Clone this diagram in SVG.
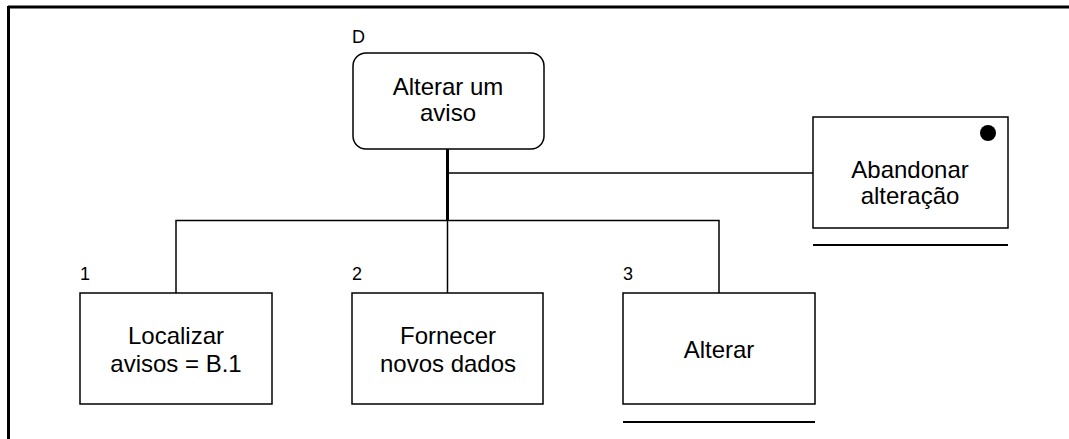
<svg xmlns="http://www.w3.org/2000/svg" width="1069" height="439" viewBox="0 0 1069 439">
<style>
.box{fill:#fff;stroke:#000;stroke-width:1.5}
.t{font-family:"Liberation Sans",Arial,sans-serif;font-size:24px;fill:#000;text-anchor:middle}
.lbl{font-family:"Liberation Sans",Arial,sans-serif;font-size:18px;fill:#000}
.c{stroke:#000;stroke-width:1.5;fill:none}
</style>
<rect x="0" y="0" width="1069" height="439" fill="#fff"/>
<g id="frame"><path d="M8 7 H1069 M8.5 6 V439" stroke="#000" stroke-width="3" fill="none"/></g>
<g id="connectors">
<line x1="447.5" y1="149" x2="447.5" y2="221" stroke="#000" stroke-width="3"/>
<path class="c" d="M447.5 173 H813"/>
<path class="c" d="M176 293 V220.5 H719 V293"/>
<path class="c" d="M447.5 220 V293"/>
</g>
<g id="nodeD">
<rect class="box" x="353" y="53" width="191" height="96" rx="13" ry="13"/>
<text class="lbl" x="352" y="43">D</text>
<text class="t" x="448" y="95">Alterar um</text>
<text class="t" x="448" y="121">aviso</text>
</g>
<g id="nodeAbandonar">
<rect class="box" x="813" y="117" width="195" height="111"/>
<circle cx="988" cy="133" r="8" fill="#000"/>
<text class="t" x="910" y="178">Abandonar</text>
<text class="t" x="910" y="204">alteração</text>
<line x1="813" y1="245" x2="1008" y2="245" stroke="#000" stroke-width="2"/>
</g>
<g id="node1">
<rect class="box" x="80" y="293" width="192" height="111"/>
<text class="lbl" x="80" y="280">1</text>
<text class="t" x="176" y="344">Localizar</text>
<text class="t" x="176" y="372">avisos = B.1</text>
</g>
<g id="node2">
<rect class="box" x="352" y="293" width="191" height="111"/>
<text class="lbl" x="352" y="280">2</text>
<text class="t" x="448" y="344">Fornecer</text>
<text class="t" x="448" y="372">novos dados</text>
</g>
<g id="node3">
<rect class="box" x="623" y="293" width="192" height="111"/>
<text class="lbl" x="623" y="280">3</text>
<text class="t" x="719" y="358">Alterar</text>
<line x1="623" y1="422" x2="815" y2="422" stroke="#000" stroke-width="2"/>
</g>
</svg>
